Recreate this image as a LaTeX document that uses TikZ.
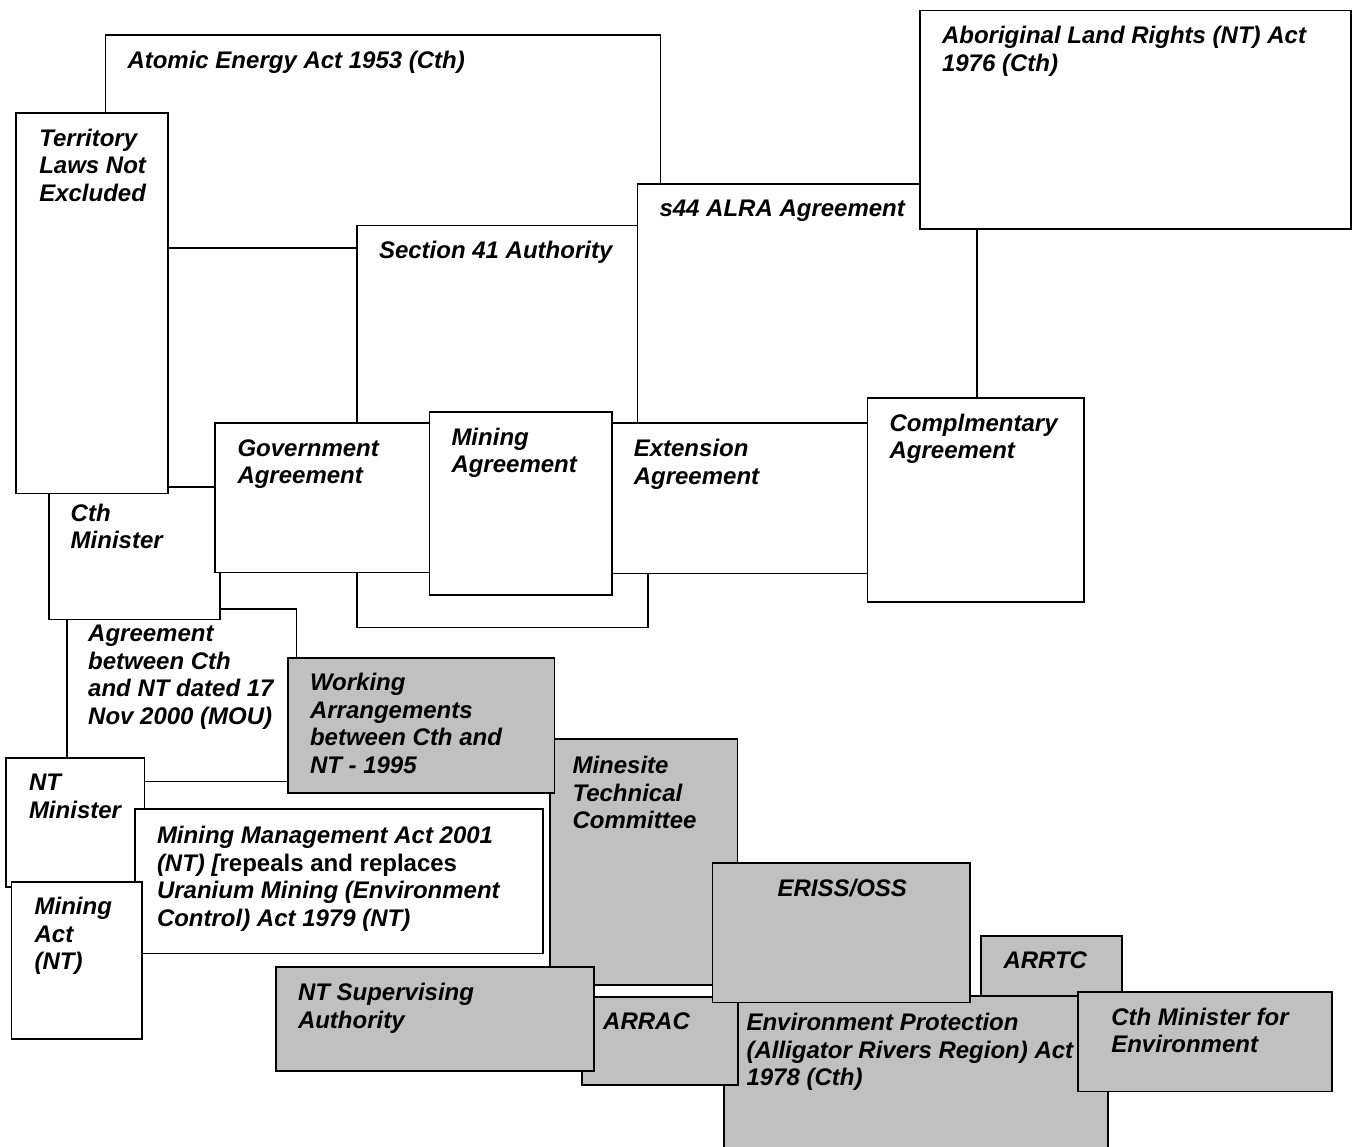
\documentclass[tikz,border=0pt]{standalone}
\usepackage{fontspec}
\setmainfont{Liberation Sans}
\usetikzlibrary{fit}
\definecolor{shadegray}{HTML}{C0C0C0}

% one rectangle spanning two corners (x1,y1) (x2,y2), y measured downwards
\newcommand\drawpanel[6]{\node[#1, fit={(#3,#4) (#5,#6)}] (#2) {};}

\begin{document}
\begin{tikzpicture}[x=1pt, y=-1pt,
  panel/.style={draw=black, line width=1.7pt, fill=white, inner sep=0pt, outer sep=0pt, rectangle},
  thinpanel/.style={panel, line width=1.25pt},
  shaded/.style={panel, fill=shadegray},
  boxtext/.style={anchor=north west, inner sep=0pt, outer sep=0pt, align=left,
    font=\fontsize{24}{27.6}\selectfont\bfseries\itshape},
]
\useasboundingbox (0,0) rectangle (1354,1146);
\fill[white] (0,0) rectangle (1354,1146);
\clip (0,0) rectangle (1354,1146);

% ---- Commonwealth legislation and agreements ----
\drawpanel{thinpanel}{atomic}{105.5}{35}{660.5}{248}
\node[boxtext] (atomic-t) at ([shift={(22,16)}]atomic.north west) {Atomic Energy Act 1953 (Cth)};

\drawpanel{thinpanel}{sec41}{357}{225.7}{648}{627.7}
\node[boxtext] (sec41-t) at ([shift={(22,15)}]sec41.north west) {Section 41 Authority};

\drawpanel{thinpanel}{s44}{637.5}{184}{977}{500}
\node[boxtext] (s44-t) at ([shift={(22,16)}]s44.north west) {s44 ALRA Agreement};

\drawpanel{panel}{alra}{920}{10.5}{1351}{229}
\node[boxtext] (alra-t) at ([shift={(22,16)}]alra.north west) {Aboriginal Land Rights (NT) Act\\1976 (Cth)};

\drawpanel{panel}{mou}{66.7}{609}{296.5}{781.5}
\node[boxtext] (mou-t) at ([shift={(21.5,16)}]mou.north west) {Agreement\\between Cth\\and NT dated 17\\Nov 2000 (MOU)};

\drawpanel{panel}{cthmin}{48.7}{486.7}{220}{619.5}
\node[boxtext] (cthmin-t) at ([shift={(22,17)}]cthmin.north west) {Cth\\Minister};

\drawpanel{panel}{territory}{16.3}{112.7}{168.3}{493.5}
\node[boxtext] (territory-t) at ([shift={(23,16)}]territory.north west) {Territory\\Laws Not\\Excluded};

\drawpanel{panel}{govt}{215}{423.3}{445}{572.5}
\node[boxtext] (govt-t) at ([shift={(22.5,16)}]govt.north west) {Government\\Agreement};

\drawpanel{panel}{ext}{612.3}{423.3}{900}{573.5}
\node[boxtext] (ext-t) at ([shift={(21.5,16)}]ext.north west) {Extension\\Agreement};

\drawpanel{panel}{minagr}{429.5}{412}{612.3}{595}
\node[boxtext] (minagr-t) at ([shift={(22,16)}]minagr.north west) {Mining\\Agreement};

\drawpanel{panel}{compl}{867.6}{398}{1084}{601.7}
\node[boxtext] (compl-t) at ([shift={(22,16)}]compl.north west) {Complmentary\\Agreement};

% ---- Territory arrangements and supervision ----
\drawpanel{shaded}{mtc}{550}{739}{737.5}{985}
\node[boxtext] (mtc-t) at ([shift={(22.5,17)}]mtc.north west) {Minesite\\Technical\\Committee};

\drawpanel{shaded}{working}{288}{658}{554.5}{792.7}
\node[boxtext] (working-t) at ([shift={(22,15)}]working.north west) {Working\\Arrangements\\between Cth and\\NT - 1995};

\drawpanel{panel}{ntmin}{6}{758}{144.5}{887}
\node[boxtext] (ntmin-t) at ([shift={(23,16)}]ntmin.north west) {NT\\Minister};

\drawpanel{panel}{mma}{135}{809}{543}{953.5}
\node[boxtext] (mma-t) at ([shift={(22,17)}]mma.north west) {Mining Management Act 2001\\(NT) [{\upshape repeals and replaces}\\Uranium Mining (Environment\\Control) Act 1979 (NT)};

\drawpanel{panel}{minact}{11.6}{882}{142}{1039}
\node[boxtext] (minact-t) at ([shift={(23,15)}]minact.north west) {Mining\\Act\\(NT)};

% ---- Alligator Rivers Region bodies ----
\drawpanel{shaded}{epa}{724}{996}{1107.7}{1170}
\node[boxtext] (epa-t) at ([shift={(22.5,17)}]epa.north west) {Environment Protection\\(Alligator Rivers Region) Act\\1978 (Cth)};

\drawpanel{shaded}{arrtc}{981}{936}{1121.7}{996}
\node[boxtext] (arrtc-t) at ([shift={(22.5,16)}]arrtc.north west) {ARRTC};

\drawpanel{shaded}{arrac}{581.7}{996.7}{737.7}{1085}
\node[boxtext] (arrac-t) at ([shift={(21.5,16)}]arrac.north west) {ARRAC};

\drawpanel{shaded}{ntsa}{276}{967}{594.3}{1071}
\node[boxtext] (ntsa-t) at ([shift={(22,16)}]ntsa.north west) {NT Supervising\\Authority};

\drawpanel{shaded}{eriss}{712.5}{863}{970}{1002.5}
\node[boxtext, anchor=north] (eriss-t) at ([shift={(1,16)}]eriss.north) {ERISS/OSS};

\drawpanel{shaded}{cthenv}{1078.3}{991.7}{1332}{1091.5}
\node[boxtext] (cthenv-t) at ([shift={(33,16)}]cthenv.north west) {Cth Minister for\\Environment};

\end{tikzpicture}
\end{document}
